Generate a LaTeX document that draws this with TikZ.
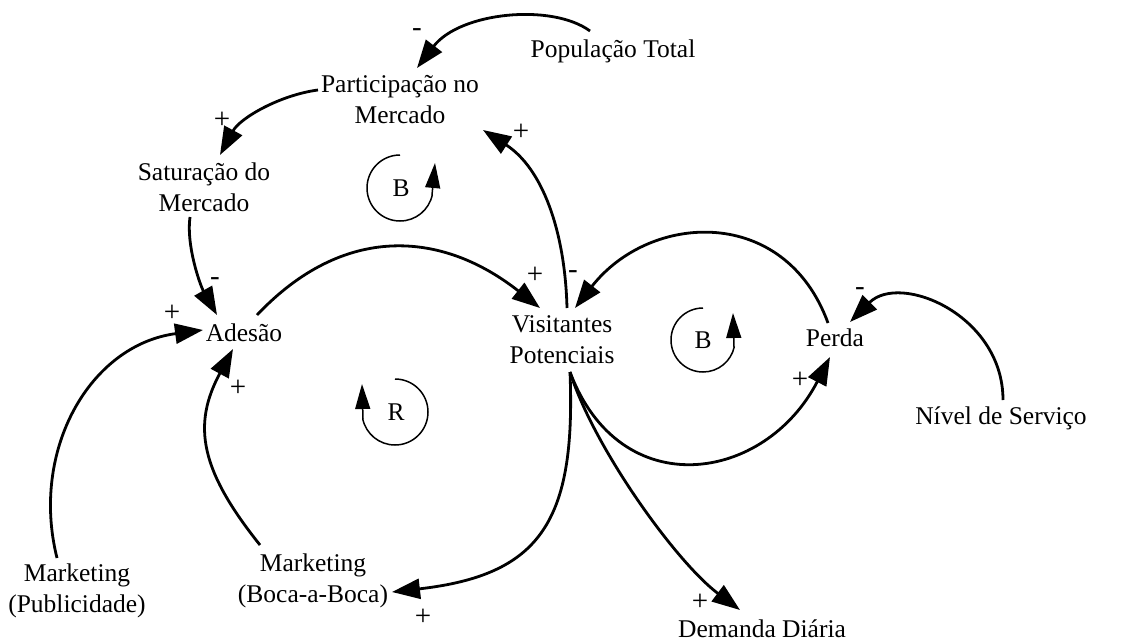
\documentclass[tikz,border=0pt]{standalone}
\usepackage{fontspec}
\setmainfont{Liberation Serif}
\usetikzlibrary{arrows.meta}
\begin{document}
\begin{tikzpicture}[x=1pt,y=-1pt,
  var/.style={font=\fontsize{25.5pt}{31pt}\selectfont, align=center, inner sep=0pt},
  sign/.style={font=\fontsize{29pt}{31pt}\selectfont, inner sep=0pt},
  link/.style={line width=2.8pt, -{Triangle[length=28pt,width=20pt]}},
  loopline/.style={line width=1.5pt},
  looptip/.style={line width=1.5pt, -{Triangle[length=25pt,width=15pt]}},
]
\useasboundingbox (0,0) rectangle (1137,642);

% variables
\node[var] (part)  at (400,100) {Participação no\\Mercado};
\node[var] (pop)   at (613,51)  {População Total};
\node[var] (sat)   at (204,187) {Saturação do\\Mercado};
\node[var] (ades)  at (244,333) {Adesão};
\node[var] (vis)   at (562,340) {Visitantes\\Potenciais};
\node[var] (perda) at (835,338) {Perda};
\node[var] (niv)   at (1001,418) {Nível de Serviço};
\node[var] (mktp)  at (77,591)  {Marketing\\(Publicidade)};
\node[var] (mktb)  at (313,581) {Marketing\\(Boca-a-Boca)};
\node[var] (dem)   at (762,629) {Demanda Diária};

% causal links
\draw[link] ([shift={(-23,-20)}]pop.center) .. controls +(-38,-28) and +(43,-56) .. ([shift={(17,-32)}]part.center);
\draw[link] ([shift={(-82,-10)}]part.center) .. controls +(-38,5) and +(20,-37) .. ([shift={(16,-32)}]sat.center);
\draw[link] ([shift={(-14,30)}]sat.center) .. controls +(-4,28) and +(-17,-30) .. ([shift={(-27,-18)}]ades.center);
\draw[link] ([shift={(-20,-33)}]mktp.center) .. controls +(-27,-108) and +(-113,15) .. ([shift={(-41,-3)}]ades.center);
\draw[link] ([shift={(-53,-36)}]mktb.center) .. controls +(-60,-75) and +(-41,76) .. ([shift={(-11,16)}]ades.center);
\draw[link] ([shift={(13,-18)}]ades.center) .. controls +(86,-91) and +(-99,-78) .. ([shift={(-22,-32)}]vis.center);
\draw[link] ([shift={(5,-32)}]vis.center) .. controls +(-2,-78) and +(59,38) .. ([shift={(83,30)}]part.center);
\draw[link] ([shift={(-7,-15)}]perda.center) .. controls +(-43,-118) and +(75,-96) .. ([shift={(13,-32)}]vis.center);
\draw[link] ([shift={(8,32)}]vis.center) .. controls +(50,133) and +(-65,126) .. ([shift={(-5,19)}]perda.center);
\draw[link] ([shift={(2,-18)}]niv.center) .. controls +(0,-85) and +(50,-50) .. ([shift={(15,-16)}]perda.center);
\draw[link] ([shift={(8,32)}]vis.center) .. controls +(6,150) and +(148,-17) .. ([shift={(79,11)}]mktb.center);
\draw[link] ([shift={(8,32)}]vis.center) .. controls +(24,76) and +(-64,-48) .. ([shift={(-22,-19)}]dem.center);

% polarities
\node[sign] (p1)  at (417,33)  {-};
\node[sign] (p2)  at (222,120) {+};
\node[sign] (p3)  at (215,282) {-};
\node[sign] (p4)  at (172,313) {+};
\node[sign] (p5)  at (238,388) {+};
\node[sign] (p6)  at (535,275) {+};
\node[sign] (p7)  at (521,132) {+};
\node[sign] (p8)  at (573,275) {-};
\node[sign] (p9)  at (800,380) {+};
\node[sign] (p10) at (860,292) {-};
\node[sign] (p11) at (423,617) {+};
\node[sign] (p12) at (700,602) {+};

% loop markers
\node[var] (loopB1) at (401,188) {B};
\draw[loopline] (400,155) arc[start angle=270, end angle=12, radius=33];
\draw[looptip] (432,195) -- (435,163);

\node[var] (loopB2) at (703,340) {B};
\draw[loopline] (703,308) arc[start angle=270, end angle=12, radius=32];
\draw[looptip] (734,347) -- (733,313);

\node[var] (loopR) at (396,412) {R};
\draw[loopline] (395,379) arc[start angle=-90, end angle=168, radius=33];
\draw[looptip] (363,419) -- (362,384);
\end{tikzpicture}
\end{document}
